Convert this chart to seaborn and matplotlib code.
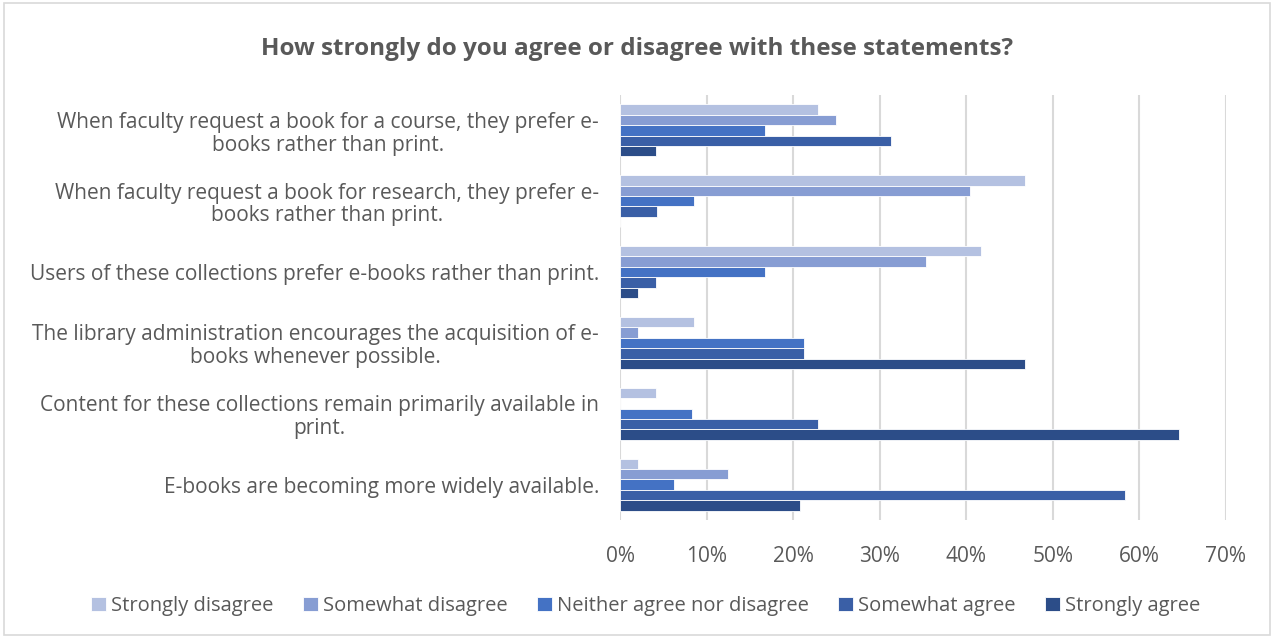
import numpy as np
import pandas as pd
import matplotlib.pyplot as plt
import seaborn as sns
from matplotlib.patches import Rectangle

statements = [
    "When faculty request a book for a course, they prefer e-\nbooks rather than print.",
    "When faculty request a book for research, they prefer e-\nbooks rather than print.",
    "Users of these collections prefer e-books rather than print.",
    "The library administration encourages the acquisition of e-\nbooks whenever possible.",
    "Content for these collections remain primarily available in\nprint.",
    "E-books are becoming more widely available.",
]
responses = ["Strongly disagree", "Somewhat disagree", "Neither agree nor disagree",
             "Somewhat agree", "Strongly agree"]

# share of answers per statement (order as in responses)
strongly_disagree = [0.229, 0.468, 0.417, 0.085, 0.042, 0.021]
somewhat_disagree = [0.250, 0.404, 0.354, 0.021, 0.000, 0.125]
neither = [0.167, 0.085, 0.167, 0.213, 0.083, 0.0625]
somewhat_agree = [0.3125, 0.043, 0.042, 0.213, 0.229, 0.583]
strongly_agree = [0.042, 0.000, 0.021, 0.468, 0.646, 0.208]

colors = ["#B4C1E1", "#879DD3", "#4472C4", "#3A5FA6", "#2C4D88"]
text_col = "#595959"

rows = []
for resp, vals in zip(responses, [strongly_disagree, somewhat_disagree, neither,
                                  somewhat_agree, strongly_agree]):
    for s, v in zip(statements, vals):
        rows.append({"statement": s, "response": resp, "share": v})
df = pd.DataFrame(rows)

sns.set_style("white")
plt.rcParams['font.family'] = ['Open Sans', 'DejaVu Sans']

fig = plt.figure(figsize=(12.74, 6.38), dpi=100)
ax = fig.add_axes([0.4867, 0.185, 0.4756, 0.666])

sns.barplot(data=df, y="statement", x="share", hue="response", order=statements,
            hue_order=responses, palette=colors, orient="h", width=0.735,
            errorbar=None, ax=ax, saturation=1, edgecolor="white", linewidth=0.6)

ax.set_xlim(0, 0.7)
ax.set_ylim(5.5, -0.5)
ax.set_xticks(np.arange(0, 0.71, 0.1))
ax.set_xticklabels([f"{int(round(t*100))}%" for t in np.arange(0, 0.71, 0.1)])
ax.grid(axis="x", color="#D9D9D9", linewidth=1.5)
ax.set_axisbelow(True)
for sp in ax.spines.values():
    sp.set_visible(False)
ax.set_xlabel("")
ax.set_ylabel("")
ax.tick_params(axis="x", colors=text_col, labelsize=15, length=0, pad=19)
ax.tick_params(axis="y", colors=text_col, labelsize=15, length=0, pad=15)
for lbl in ax.get_yticklabels():
    lbl.set_multialignment("center")
    lbl.set_linespacing(1.1)

fig.suptitle("How strongly do you agree or disagree with these statements?",
             x=0.5, y=0.942, fontsize=17.5, fontweight="bold", color=text_col)

handles, labels = ax.get_legend_handles_labels()
ax.legend_.remove()
fig.legend(handles, labels, loc="center", bbox_to_anchor=(0.507, 0.05), ncol=5,
           frameon=False, fontsize=14.5, labelcolor=text_col, handlelength=0.75,
           handleheight=0.75, handletextpad=0.25, columnspacing=1.45)

fig.patches.append(Rectangle((0.003, 0.004), 0.994, 0.992, transform=fig.transFigure,
                             fill=False, edgecolor="#D9D9D9", linewidth=1.2))

fig.savefig("out.png", dpi=100)
